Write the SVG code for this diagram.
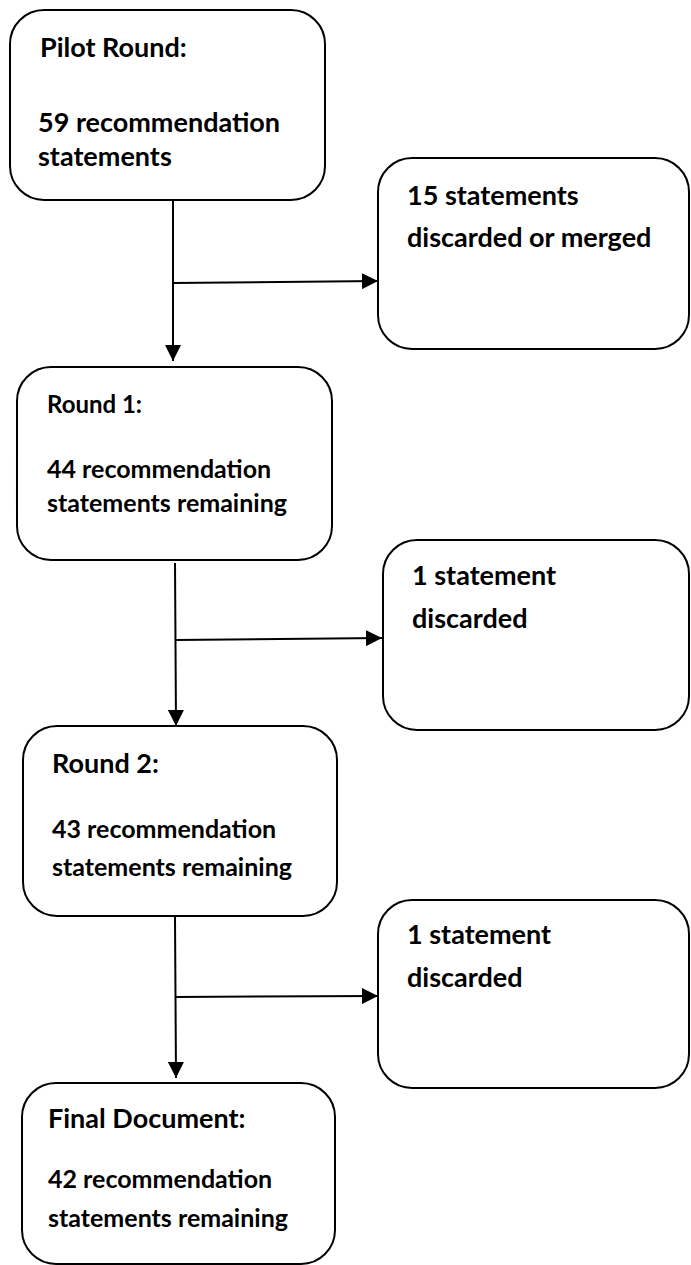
<svg xmlns="http://www.w3.org/2000/svg" width="691" height="1265" viewBox="0 0 691 1265">
<style>
.box{fill:#fff;stroke:#000;stroke-width:2}
.t{font-family:Lato,"Liberation Sans",sans-serif;font-weight:bold;fill:#000}
.c{stroke:#000;stroke-width:2;fill:none}
</style>
<defs>
<marker id="ah" markerWidth="8" markerHeight="8" refX="8" refY="4" orient="auto" markerUnits="strokeWidth">
<path d="M0,0 L8,4 L0,8 Z" fill="#000"/>
</marker>
</defs>
<rect width="691" height="1265" fill="#fff"/>
<g id="connectors">
<line class="c" x1="173" y1="201" x2="173" y2="361" marker-end="url(#ah)"/>
<line class="c" x1="173" y1="283" x2="378" y2="281" marker-end="url(#ah)"/>
<line class="c" x1="175" y1="563" x2="176" y2="726" marker-end="url(#ah)"/>
<line class="c" x1="176" y1="640" x2="382" y2="638" marker-end="url(#ah)"/>
<line class="c" x1="175" y1="917" x2="176" y2="1078" marker-end="url(#ah)"/>
<line class="c" x1="175" y1="997" x2="378" y2="996" marker-end="url(#ah)"/>
</g>
<g id="pilot">
<rect class="box" x="10" y="10" width="315" height="190" rx="34"/>
<text class="t" x="40" y="57" font-size="27">Pilot Round:</text>
<text class="t" x="38" y="132" font-size="27">59 recommendation</text>
<text class="t" x="38" y="166" font-size="27">statements</text>
</g>
<g id="discard15">
<rect class="box" x="378" y="158" width="311" height="191" rx="34"/>
<text class="t" x="407" y="205" font-size="27">15 statements</text>
<text class="t" x="407" y="247" font-size="27">discarded or merged</text>
</g>
<g id="round1">
<rect class="box" x="17" y="367" width="315" height="193" rx="34"/>
<text class="t" x="47" y="413" font-size="24">Round 1:</text>
<text class="t" x="47" y="478" font-size="25">44 recommendation</text>
<text class="t" x="47" y="512" font-size="25">statements remaining</text>
</g>
<g id="discard1a">
<rect class="box" x="383" y="540" width="306" height="190" rx="34"/>
<text class="t" x="412" y="585" font-size="27">1 statement</text>
<text class="t" x="412" y="628" font-size="27">discarded</text>
</g>
<g id="round2">
<rect class="box" x="23" y="726" width="314" height="190" rx="34"/>
<text class="t" x="52" y="773" font-size="27">Round 2:</text>
<text class="t" x="52" y="838" font-size="25">43 recommendation</text>
<text class="t" x="52" y="876" font-size="25">statements remaining</text>
</g>
<g id="discard1b">
<rect class="box" x="378" y="900" width="311" height="188" rx="34"/>
<text class="t" x="407" y="944" font-size="27">1 statement</text>
<text class="t" x="407" y="987" font-size="27">discarded</text>
</g>
<g id="final">
<rect class="box" x="22" y="1083" width="313" height="181" rx="34"/>
<text class="t" x="48" y="1128" font-size="27">Final Document:</text>
<text class="t" x="48" y="1188" font-size="25">42 recommendation</text>
<text class="t" x="48" y="1227" font-size="25">statements remaining</text>
</g>
</svg>
